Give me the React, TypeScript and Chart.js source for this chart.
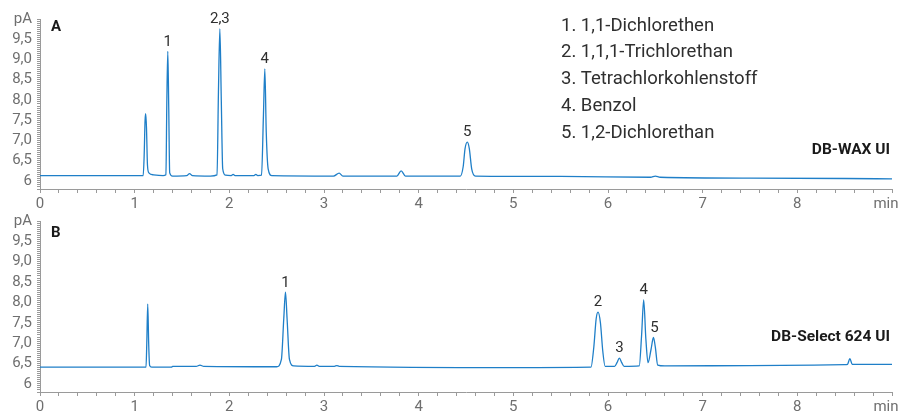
import React, { useEffect, useRef } from 'react';
import { Chart, registerables } from 'chart.js';
Chart.register(...registerables);

// ---------- DATA ----------
const timesA = [0, 0.5, 1.0, 1.09, 1.1, 1.11, 1.117, 1.125, 1.135, 1.15, 1.2, 1.3, 1.33, 1.34, 1.35, 1.36, 1.37, 1.4, 1.55, 1.58, 1.61, 1.8, 1.87, 1.885, 1.9, 1.915, 1.93, 1.96, 2.02, 2.04, 2.06, 2.26, 2.28, 2.3, 2.34, 2.36, 2.375, 2.39, 2.41, 2.45, 3.1, 3.16, 3.2, 3.77, 3.815, 3.86, 4.44, 4.47, 4.49, 4.514, 4.535, 4.56, 4.6, 5.5, 6.45, 6.5, 6.55, 7.5, 8.5, 9.0];
const signalA = [6.13, 6.13, 6.13, 6.13, 6.6, 7.5, 7.66, 7.3, 6.4, 6.2, 6.15, 6.13, 6.15, 8.0, 9.2, 7.8, 6.2, 6.12, 6.13, 6.18, 6.13, 6.12, 6.15, 8.2, 9.76, 8.0, 6.3, 6.14, 6.13, 6.16, 6.13, 6.13, 6.16, 6.13, 6.14, 7.6, 8.77, 7.2, 6.3, 6.13, 6.12, 6.19, 6.12, 6.12, 6.25, 6.12, 6.12, 6.35, 6.8, 6.96, 6.8, 6.3, 6.12, 6.11, 6.09, 6.12, 6.09, 6.07, 6.06, 6.05];

const timesB = [0, 1.0, 1.12, 1.128, 1.138, 1.148, 1.158, 1.18, 1.39, 1.4, 1.65, 1.69, 1.73, 2.5, 2.55, 2.575, 2.593, 2.61, 2.635, 2.68, 2.9, 2.925, 2.95, 3.11, 3.136, 3.16, 5.0, 5.82, 5.85, 5.875, 5.895, 5.92, 5.945, 5.97, 6.07, 6.095, 6.12, 6.145, 6.17, 6.33, 6.355, 6.377, 6.4, 6.423, 6.455, 6.48, 6.5, 6.525, 6.6, 7.5, 8.5, 8.53, 8.555, 8.58, 9.0];
const signalB = [6.41, 6.41, 6.41, 7.0, 7.96, 7.0, 6.45, 6.41, 6.41, 6.43, 6.43, 6.46, 6.43, 6.42, 6.6, 7.6, 8.25, 7.6, 6.6, 6.44, 6.43, 6.46, 6.43, 6.43, 6.45, 6.43, 6.4, 6.41, 6.9, 7.6, 7.76, 7.5, 6.8, 6.43, 6.43, 6.52, 6.63, 6.52, 6.43, 6.44, 7.2, 8.06, 7.1, 6.52, 6.85, 7.14, 6.9, 6.46, 6.44, 6.45, 6.47, 6.48, 6.62, 6.48, 6.48];

const peakLabelsA = ['1', '2,3', '4', '5'];
const peakTimesA = [1.35, 1.9, 2.375, 4.514];
const peakValuesA = [9.2, 9.76, 8.77, 6.96];

const peakLabelsB = ['1', '2', '3', '4', '5'];
const peakTimesB = [2.593, 5.895, 6.12, 6.377, 6.49];
const peakValuesB = [8.25, 7.76, 6.63, 8.06, 7.14];

const compoundNames = ['1. 1,1-Dichlorethen', '2. 1,1,1-Trichlorethan', '3. Tetrachlorkohlenstoff', '4. Benzol', '5. 1,2-Dichlorethan'];

const xTickLabels = ['0', '1', '2', '3', '4', '5', '6', '7', '8', 'min'];
const yTickValues = [6, 6.5, 7, 7.5, 8, 8.5, 9, 9.5, 10];
const yTickLabels = ['6', '6,5', '7,0', '7,5', '8,0', '8,5', '9,0', '9,5', 'pA'];

// ---------- CHART ----------
const LINE = '#1f7fc8';
const AXIS = '#9a9a9a';
const TICKTXT = '#6f6f6f';
const TEXT = '#2f2f2f';

type PanelOpts = {
  times: number[];
  values: number[];
  peakLabels: string[];
  peakTimes: number[];
  peakValues: number[];
  letter: string;
  letterY: number;
  column: string;
  columnY: number;
  legend: boolean;
  xHeight: number;
};

function makeChart(canvas: HTMLCanvasElement, o: PanelOpts) {
  const annot = {
    id: 'annot',
    afterDatasetsDraw(chart: any) {
      const ctx = chart.ctx;
      const xs = chart.scales.x;
      const ys = chart.scales.y;
      const ca = chart.chartArea;
      ctx.save();
      ctx.font = '15px Roboto';
      ctx.fillStyle = TEXT;
      ctx.textAlign = 'center';
      ctx.textBaseline = 'bottom';
      o.peakLabels.forEach((l, i) => {
        ctx.fillText(l, xs.getPixelForValue(o.peakTimes[i]), ys.getPixelForValue(o.peakValues[i]) - 2);
      });
      // unit label at the end of the time axis
      ctx.fillStyle = TICKTXT;
      ctx.textBaseline = 'middle';
      ctx.fillText(xTickLabels[xTickLabels.length - 1], xs.getPixelForValue(xTickLabels.length - 1) - 6, ca.bottom + 15);
      ctx.font = 'bold 15px Roboto';
      ctx.fillStyle = '#1a1a1a';
      ctx.textAlign = 'left';
      ctx.textBaseline = 'middle';
      ctx.fillText(o.letter, ca.left + 11, o.letterY);
      ctx.font = 'bold 15.5px Roboto';
      ctx.textAlign = 'right';
      ctx.fillText(o.column, ca.right - 2, o.columnY);
      if (o.legend) {
        ctx.font = '18.5px Roboto';
        ctx.fillStyle = TEXT;
        ctx.textAlign = 'left';
        compoundNames.forEach((n, i) => ctx.fillText(n, 561, 26 + i * 26.8));
      }
      ctx.restore();
    },
  };

  return new Chart(canvas, {
    type: 'line',
    data: {
      datasets: [
        {
          data: o.times.map((t, i) => ({ x: t, y: o.values[i] })),
          borderColor: LINE,
          borderWidth: 1.3,
          pointRadius: 0,
          cubicInterpolationMode: 'monotone',
          fill: false,
        },
      ],
    },
    options: {
      responsive: false,
      animation: false,
      layout: { padding: { top: 19, right: 17, left: 0, bottom: 0 } },
      plugins: { legend: { display: false }, tooltip: { enabled: false } },
      scales: {
        x: {
          type: 'linear',
          min: 0,
          max: 9,
          afterFit: (s: any) => { s.height = o.xHeight; },
          border: { display: true, color: AXIS, width: 1 },
          grid: { drawOnChartArea: false, drawTicks: true, tickLength: 4, tickColor: AXIS },
          ticks: {
            stepSize: 0.2,
            autoSkip: false,
            maxRotation: 0,
            padding: 2,
            color: TICKTXT,
            font: { family: 'Roboto', size: 15 },
            callback: (v: any) => {
              const n = Number(v);
              const i = Math.round(n);
              if (Math.abs(n - i) < 1e-6 && i >= 0 && i < xTickLabels.length - 1) return xTickLabels[i];
              return '';
            },
          },
        },
        y: {
          type: 'linear',
          min: 5.8,
          max: 10,
          afterFit: (s: any) => { s.width = 40; },
          border: { display: true, color: AXIS, width: 1 },
          grid: { drawOnChartArea: false, drawTicks: true, tickLength: 3, tickColor: AXIS },
          ticks: {
            stepSize: 0.05,
            maxTicksLimit: 1000,
            autoSkip: false,
            padding: 5,
            color: TICKTXT,
            font: { family: 'Roboto', size: 15 },
            callback: (v: any) => {
              const n = Number(v);
              const idx = yTickValues.findIndex((t) => Math.abs(t - n) < 1e-6);
              return idx >= 0 ? yTickLabels[idx] : '';
            },
          },
        },
      },
    } as any,
    plugins: [annot],
  });
}

export default function App() {
  const refA = useRef<HTMLCanvasElement>(null);
  const refB = useRef<HTMLCanvasElement>(null);

  useEffect(() => {
    const a = makeChart(refA.current!, {
      times: timesA,
      values: signalA,
      peakLabels: peakLabelsA,
      peakTimes: peakTimesA,
      peakValues: peakValuesA,
      letter: 'A',
      letterY: 27,
      column: 'DB-WAX UI',
      columnY: 150,
      legend: true,
      xHeight: 26,
    });
    const b = makeChart(refB.current!, {
      times: timesB,
      values: signalB,
      peakLabels: peakLabelsB,
      peakTimes: peakTimesB,
      peakValues: peakValuesB,
      letter: 'B',
      letterY: 31.5,
      column: 'DB-Select 624 UI',
      columnY: 135,
      legend: false,
      xHeight: 21,
    });
    return () => {
      a.destroy();
      b.destroy();
    };
  }, []);

  return (
    <div style={{ position: 'fixed', left: 0, top: 0, width: 909, height: 413, background: '#fff', fontFamily: 'Roboto' }}>
      <canvas ref={refA} width={909} height={215} style={{ position: 'absolute', left: 0, top: 0, width: 909, height: 215 }} />
      <canvas ref={refB} width={909} height={211} style={{ position: 'absolute', left: 0, top: 202, width: 909, height: 211 }} />
    </div>
  );
}
